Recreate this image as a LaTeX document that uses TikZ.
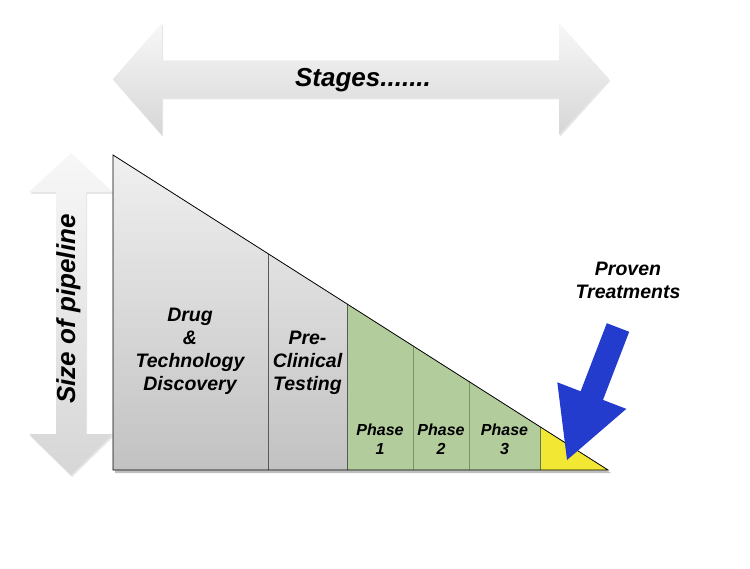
\documentclass[tikz,border=0pt]{standalone}
\usepackage{fontspec}
\setmainfont{Liberation Sans}
\usepackage{tikz}
\usetikzlibrary{arrows.meta,shadows}
\definecolor{phasegreen}{RGB}{178,204,156}
\definecolor{phaseline}{RGB}{120,150,105}
\definecolor{provenyellow}{RGB}{242,232,52}
\definecolor{provenblue}{RGB}{35,60,205}

\tikzset{
  lbl/.style={font=\fontsize{19.5}{22.8}\selectfont\bfseries\itshape, align=center, inner sep=0pt, anchor=base},
  biglbl/.style={lbl, font=\fontsize{26}{30}\selectfont\bfseries\itshape},
  phaselbl/.style={lbl, font=\fontsize{16}{18.3}\selectfont\bfseries\itshape},
  grayarrow/.style={top color=gray!6, bottom color=gray!32, drop shadow={opacity=0.2, shadow xshift=1pt, shadow yshift=-2pt}},
  cellline/.style={draw=black!65, line width=0.6pt}
}

\begin{document}
\begin{tikzpicture}[x=1pt,y=-1pt]
\useasboundingbox (0,0) rectangle (750,569);

% Stages arrow
\shade[grayarrow] (113,79) -- (162,23) -- (162,60.5) -- (559,60.5) -- (559,23) -- (609,79)
  -- (559,135) -- (559,97.5) -- (162,97.5) -- (162,135) -- cycle;
\node[biglbl] (stages) at (363,87) {Stages.......};

% Size arrow
\shade[grayarrow] (71,153) -- (113,192) -- (86,192) -- (86,434) -- (113,434) -- (71,475)
  -- (29,434) -- (56,434) -- (56,192) -- (29,192) -- cycle;
\node[biglbl, rotate=90] (pipeline) at (75,309) {Size of pipeline};

% pipeline triangle
\fill[black, opacity=0.25] (115,158) -- (611,473) -- (115,473) -- cycle;
\shade[top color=gray!12, bottom color=gray!48] (113,470) -- (113,155) -- (347,303.9) -- (347,470) -- cycle;
\fill[phasegreen] (347,470) -- (347,303.9) -- (540,426.7) -- (540,470) -- cycle;
\fill[provenyellow] (540,470) -- (540,426.7) -- (608,470) -- cycle;

\draw[cellline] (268,470) -- (268,253.6);
\draw[cellline] (347,470) -- (347,303.9);
\draw[cellline, draw=phaseline] (413,470) -- (413,345.9);
\draw[cellline, draw=phaseline] (469,470) -- (469,381.5);
\draw[cellline, draw=phaseline!80!black] (540,470) -- (540,426.7);
\draw[line width=0.8pt, line join=miter] (113,155) -- (608,470) -- (113,470) -- cycle;

% last baselines
\node[lbl] (discovery) at (190,390) {Drug\\\&\\Technology\\Discovery};
\node[lbl] (preclinical) at (307.5,390) {Pre-\\Clinical\\Testing};
\node[phaselbl] (phaseone) at (380,454) {Phase\\1};
\node[phaselbl] (phasetwo) at (441,454) {Phase\\2};
\node[phaselbl] (phasethree) at (504.5,454) {Phase\\3};

% Proven treatments
\node[lbl, font=\fontsize{19.5}{23}\selectfont\bfseries\itshape] (proven) at (628,299) {Proven\\Treatments};
\fill[provenblue] (606.8,323.2) -- (629.2,331.8) -- (603,399.9) -- (626.3,408.9) -- (567,460)
  -- (557.3,382.3) -- (580.6,391.3) -- cycle;

\end{tikzpicture}
\end{document}
